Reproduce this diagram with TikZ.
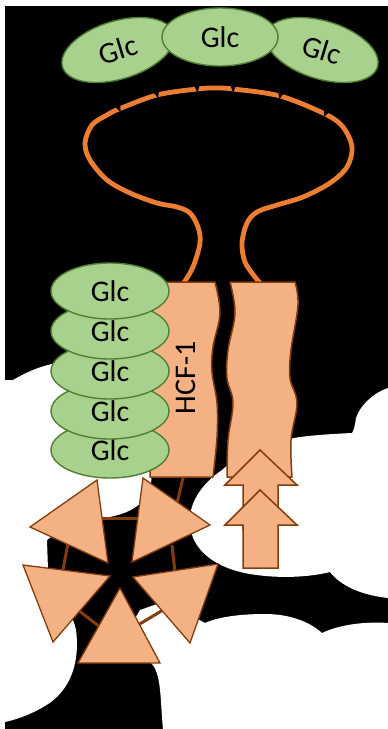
\documentclass[tikz,border=0pt]{standalone}
\usepackage{fontspec}
\setmainfont{Carlito}
\usetikzlibrary{shapes.geometric}
\definecolor{glcgreen}{HTML}{A9D18E}
\definecolor{glcedge}{HTML}{507E32}
\definecolor{peachfill}{HTML}{F4B183}
\definecolor{rustline}{HTML}{843C0C}
\definecolor{loopline}{HTML}{ED7D31}
\newcommand\loopnotch[2]{%
  \begin{scope}[shift={#1}, rotate=#2]
    \fill[black] (-3,-4.2) -- (3,-4.2) -- (0.3,3.6) -- cycle;
  \end{scope}}
\begin{document}
\begin{tikzpicture}[x=1pt,y=-1pt,
  glc/.style={ellipse, draw=glcedge, fill=glcgreen, line width=1.4pt,
    inner sep=0pt, minimum width=118pt, minimum height=56pt,
    font=\fontsize{30}{30}\selectfont},
  glctop/.style={glc, minimum width=116pt, minimum height=58pt},
  stripbox/.style={draw=rustline, fill=peachfill, line width=1.5pt, line join=round},
  wedge/.style={draw=rustline, fill=peachfill, line width=1.3pt, line join=miter},
  spoke/.style={draw=rustline, line width=3pt},
  loopstroke/.style={draw=loopline, line width=4.8pt},
  cloud/.style={fill=white, draw=none}]
\useasboundingbox (0,0) rectangle (388,729);
\fill[black] (0,0) rectangle (388,729);

% white margins and background clouds
\fill[cloud] (0,0) rectangle (388,6);
\fill[cloud] (0,0) rectangle (5,729);
\fill[cloud] (5,380) -- (13,380) .. controls (25,373) and (38,367) .. (52,364)
  -- (120,345) -- (160,400) -- (150,492)
  .. controls (140,508) and (125,515) .. (103,518) -- (60,530) -- (47,540)
  -- (48,570) .. controls (55,595) and (72,610) .. (76,630)
  .. controls (80,660) and (72,690) .. (45,706)
  .. controls (28,716) and (14,720) .. (5,722) -- cycle;
\fill[cloud] (388,388) .. controls (375,392) and (360,405) .. (356,418)
  .. controls (355,425) and (354,430) .. (352,433)
  .. controls (330,434) and (300,436) .. (290,439)
  .. controls (260,445) and (235,458) .. (222,470)
  .. controls (200,485) and (188,505) .. (190,525)
  .. controls (192,550) and (215,568) .. (250,574)
  .. controls (280,579) and (310,577) .. (330,572)
  .. controls (340,585) and (360,595) .. (388,598) -- cycle;
\fill[cloud] (388,623) .. controls (375,622) and (345,622) .. (322,633)
  .. controls (310,622) and (290,614) .. (265,614)
  .. controls (240,614) and (218,617) .. (205,623)
  -- (185,612) -- (160,603) -- (140,610) -- (128,630) -- (150,662)
  .. controls (162,672) and (160,700) .. (163,729) -- (388,729) -- cycle;

% spokes joining the triangles
\coordinate (s1a) at (98,518);  \coordinate (s1b) at (142,518);
\coordinate (s2a) at (68,543);  \coordinate (s2b) at (63,570);
\coordinate (s3a) at (172,545); \coordinate (s3b) at (175,572);
\coordinate (s4a) at (78,610);  \coordinate (s4b) at (100,627);
\coordinate (s5a) at (138,625); \coordinate (s5b) at (163,610);
\coordinate (s6a) at (176,507); \coordinate (s6b) at (185,470);
\draw[spoke] (s1a) -- (s1b);
\draw[spoke] (s2a) -- (s2b);
\draw[spoke] (s3a) -- (s3b);
\draw[spoke] (s4a) -- (s4b);
\draw[spoke] (s5a) -- (s5b);
\draw[spoke] (s6a) -- (s6b);

% orange loop between the two strands
\draw[loopstroke] plot[smooth, tension=0.55] coordinates {
  (183,284) (193,267) (200,243) (198,227) (190,213) (177,207) (157,203)
  (130,193) (107,180) (90,160) (85,143) (92,125) (107,115) (119,109)
  (157,95) (197,89) (215,88) (233,89) (280,96) (325,114) (343,127)
  (352,147) (347,167) (330,183) (303,197) (277,205) (257,212) (247,223)
  (242,243) (245,262) (255,277) (262,285)};
\loopnotch{(119,109)}{24}
\loopnotch{(157,95)}{14}
\loopnotch{(197,89)}{3}
\loopnotch{(233,89)}{-3}
\loopnotch{(280,96)}{-14}
\loopnotch{(325,114)}{-28}

% the two wavy strands
\draw[stripbox] (150,282) -- plot[smooth, tension=0.6] coordinates {
  (215,282) (220,313) (213,347) (212,372) (217,403) (217,437) (213,477)}
  -- (150,477) -- cycle;
\draw[stripbox] plot[smooth, tension=0.6] coordinates {
  (227,477) (228,440) (233,403) (227,378) (228,350) (235,313) (230,282)}
  -- plot[smooth, tension=0.6] coordinates {
  (295,282) (298,305) (291,350) (290,378) (297,403) (291,440) (292,477)}
  -- cycle;
\node[rotate=90, font=\fontsize{30}{30}\selectfont] (hcf) at (186,378) {HCF-1};

% stack of glucose units
\node[glc] (g5) at (110,450) {Glc};
\node[glc] (g4) at (110,411) {Glc};
\node[glc] (g3) at (110,371) {Glc};
\node[glc] (g2) at (110,331) {Glc};
\node[glc] (g1) at (110,291) {Glc};

% up arrows
\draw[stripbox, line join=miter] (260,450) -- (297,485) -- (278,485) -- (278,530)
  -- (243,530) -- (243,485) -- (225,485) -- cycle;
\draw[stripbox, line join=miter] (260,490) -- (297,525) -- (278,525) -- (278,568)
  -- (243,568) -- (243,525) -- (225,525) -- cycle;

% pinwheel of triangles
\draw[wedge] (97,480) -- (30,527) -- (108,563) -- cycle;
\draw[wedge] (143,478) -- (210,525) -- (132,562) -- cycle;
\draw[wedge] (23,565) -- (110,576) -- (53,642) -- cycle;
\draw[wedge] (133,577) -- (218,564) -- (190,643) -- cycle;
\draw[wedge] (120,588) -- (78,663) -- (160,663) -- cycle;

% glucose chain on top
\node[glctop, rotate=17] (gl) at (118,50) {Glc};
\node[glctop, rotate=-17] (gr) at (322,50) {Glc};
\node[glctop] (gm) at (220,37) {Glc};
\end{tikzpicture}
\end{document}
